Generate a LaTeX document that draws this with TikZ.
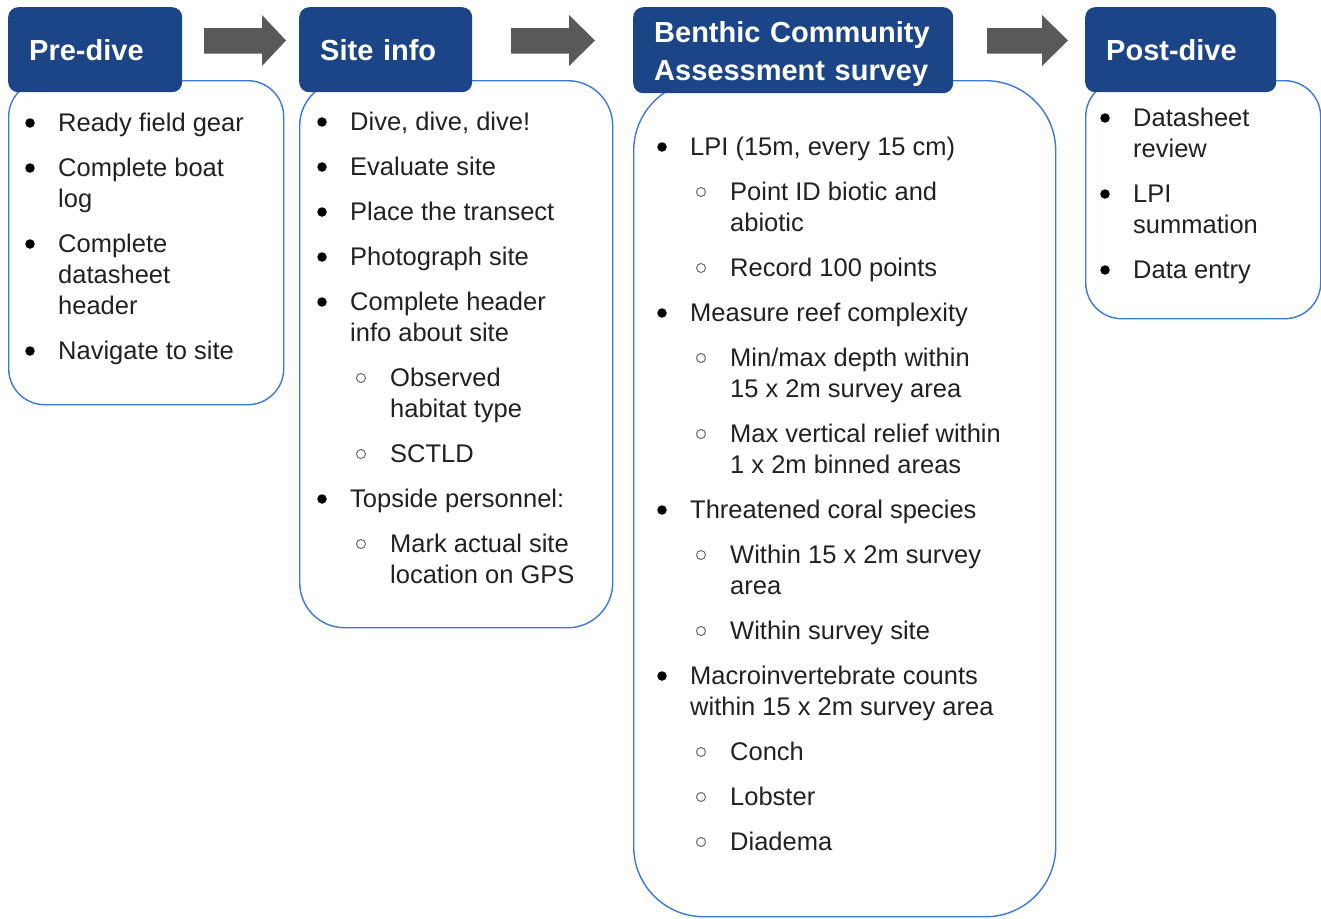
\documentclass[tikz,border=0pt]{standalone}
\usepackage{fontspec}
\setmainfont{Liberation Sans}
\definecolor{hdblue}{HTML}{1C4587}
\definecolor{edgeblue}{HTML}{3C78D8}
\definecolor{arrowgray}{HTML}{595959}
\definecolor{txt}{HTML}{212121}
\definecolor{ringgray}{HTML}{6A6A6A}

% one text line per node; bullets drawn as small circles
\newcommand\itemlines[2]{%
  \foreach \tx/\y/\m/\t [count=\i] in {#2} {
    \node[line] (#1-\i) at (\tx,\y+8) {\t};
    \ifnum\m=1 \node[dot] (#1-d\i) at (\tx-28,\y) {};\fi
    \ifnum\m=2 \node[ring] (#1-r\i) at (\tx-29,\y) {};\fi
  }}

% block arrow: shaft from x0 to x1, head tip at x2
\newcommand\blockarrow[3]{%
  \fill[arrowgray] (#1,28) -- (#2,28) -- (#2,15) -- (#3,40.5)
    -- (#2,66) -- (#2,53.5) -- (#1,53.5) -- cycle;}

\begin{document}
\begin{tikzpicture}[x=1pt,y=-1pt,
  bodybox/.style={draw=edgeblue, line width=1.4pt, fill=white,
    anchor=north west, inner sep=0pt},
  head/.style={fill=hdblue, rounded corners=10pt, anchor=north west,
    text=white, align=left, inner xsep=21pt, inner ysep=0pt,
    font=\fontsize{29}{38}\selectfont\bfseries},
  line/.style={anchor=base west, inner sep=0pt, text=txt,
    font=\fontsize{25.5}{31}\selectfont},
  dot/.style={circle, fill=black, minimum size=9.5pt, inner sep=0pt},
  ring/.style={circle, draw=ringgray, line width=1pt, minimum size=9pt, inner sep=0pt}]
\useasboundingbox (0,0) rectangle (1321,918);

% content panels
\node[bodybox, rounded corners=36pt, minimum width=275pt, minimum height=324pt] (b1) at (8,80) {};
\node[bodybox, rounded corners=45pt, minimum width=313pt, minimum height=547pt] (b2) at (299,80) {};
\node[bodybox, rounded corners=70pt, minimum width=422pt, minimum height=836pt] (b3) at (633,80) {};
\node[bodybox, rounded corners=36pt, minimum width=235pt, minimum height=238pt] (b4) at (1085,80) {};

% stage headers
\node[head, text width=132pt, minimum height=85pt] (h1) at (8,7) {Pre-dive};
\node[head, text width=131pt, minimum height=85pt] (h2) at (299,7) {Site info};
\node[head, text width=278pt, minimum height=86pt] (h3) at (633,7)
  {\rule{0pt}{29pt}Benthic Community\\Assessment survey};
\node[head, text width=149pt, minimum height=85pt] (h4) at (1085,7) {Post-dive};

% arrows between stages
\blockarrow{204}{262}{286}
\blockarrow{511}{569}{595}
\blockarrow{987}{1042}{1068}

% Pre-dive
\itemlines{p}{
  58/123/1/Ready field gear,
  58/168/1/Complete boat,
  58/199/0/log,
  58/244/1/Complete,
  58/275/0/datasheet,
  58/306/0/header,
  58/351/1/Navigate to site}

% Site info
\itemlines{s}{
  350/122/1/{Dive, dive, dive!},
  350/167/1/Evaluate site,
  350/212/1/Place the transect,
  350/257/1/Photograph site,
  350/302/1/Complete header,
  350/333/0/info about site,
  390/378/2/Observed,
  390/409/0/habitat type,
  390/454/2/SCTLD,
  350/499/1/Topside personnel:,
  390/544/2/Mark actual site,
  390/575/0/location on GPS}

% Benthic Community Assessment survey
\itemlines{c}{
  690/147/1/{LPI (15m, every 15 cm)},
  730/192/2/Point ID biotic and,
  730/223/0/abiotic,
  730/268/2/Record 100 points,
  690/313/1/Measure reef complexity,
  730/358/2/{Min/max depth within},
  730/389/0/15 x 2m survey area,
  730/434/2/Max vertical relief within,
  730/465/0/1 x 2m binned areas,
  690/510/1/Threatened coral species,
  730/555/2/Within 15 x 2m survey,
  730/586/0/area,
  730/631/2/Within survey site,
  690/676/1/Macroinvertebrate counts,
  690/707/0/within 15 x 2m survey area,
  730/752/2/Conch,
  730/797/2/Lobster,
  730/842/2/Diadema}

% Post-dive
\itemlines{d}{
  1133/118/1/Datasheet,
  1133/149/0/review,
  1133/194/1/LPI,
  1133/225/0/summation,
  1133/270/1/Data entry}
\end{tikzpicture}
\end{document}
